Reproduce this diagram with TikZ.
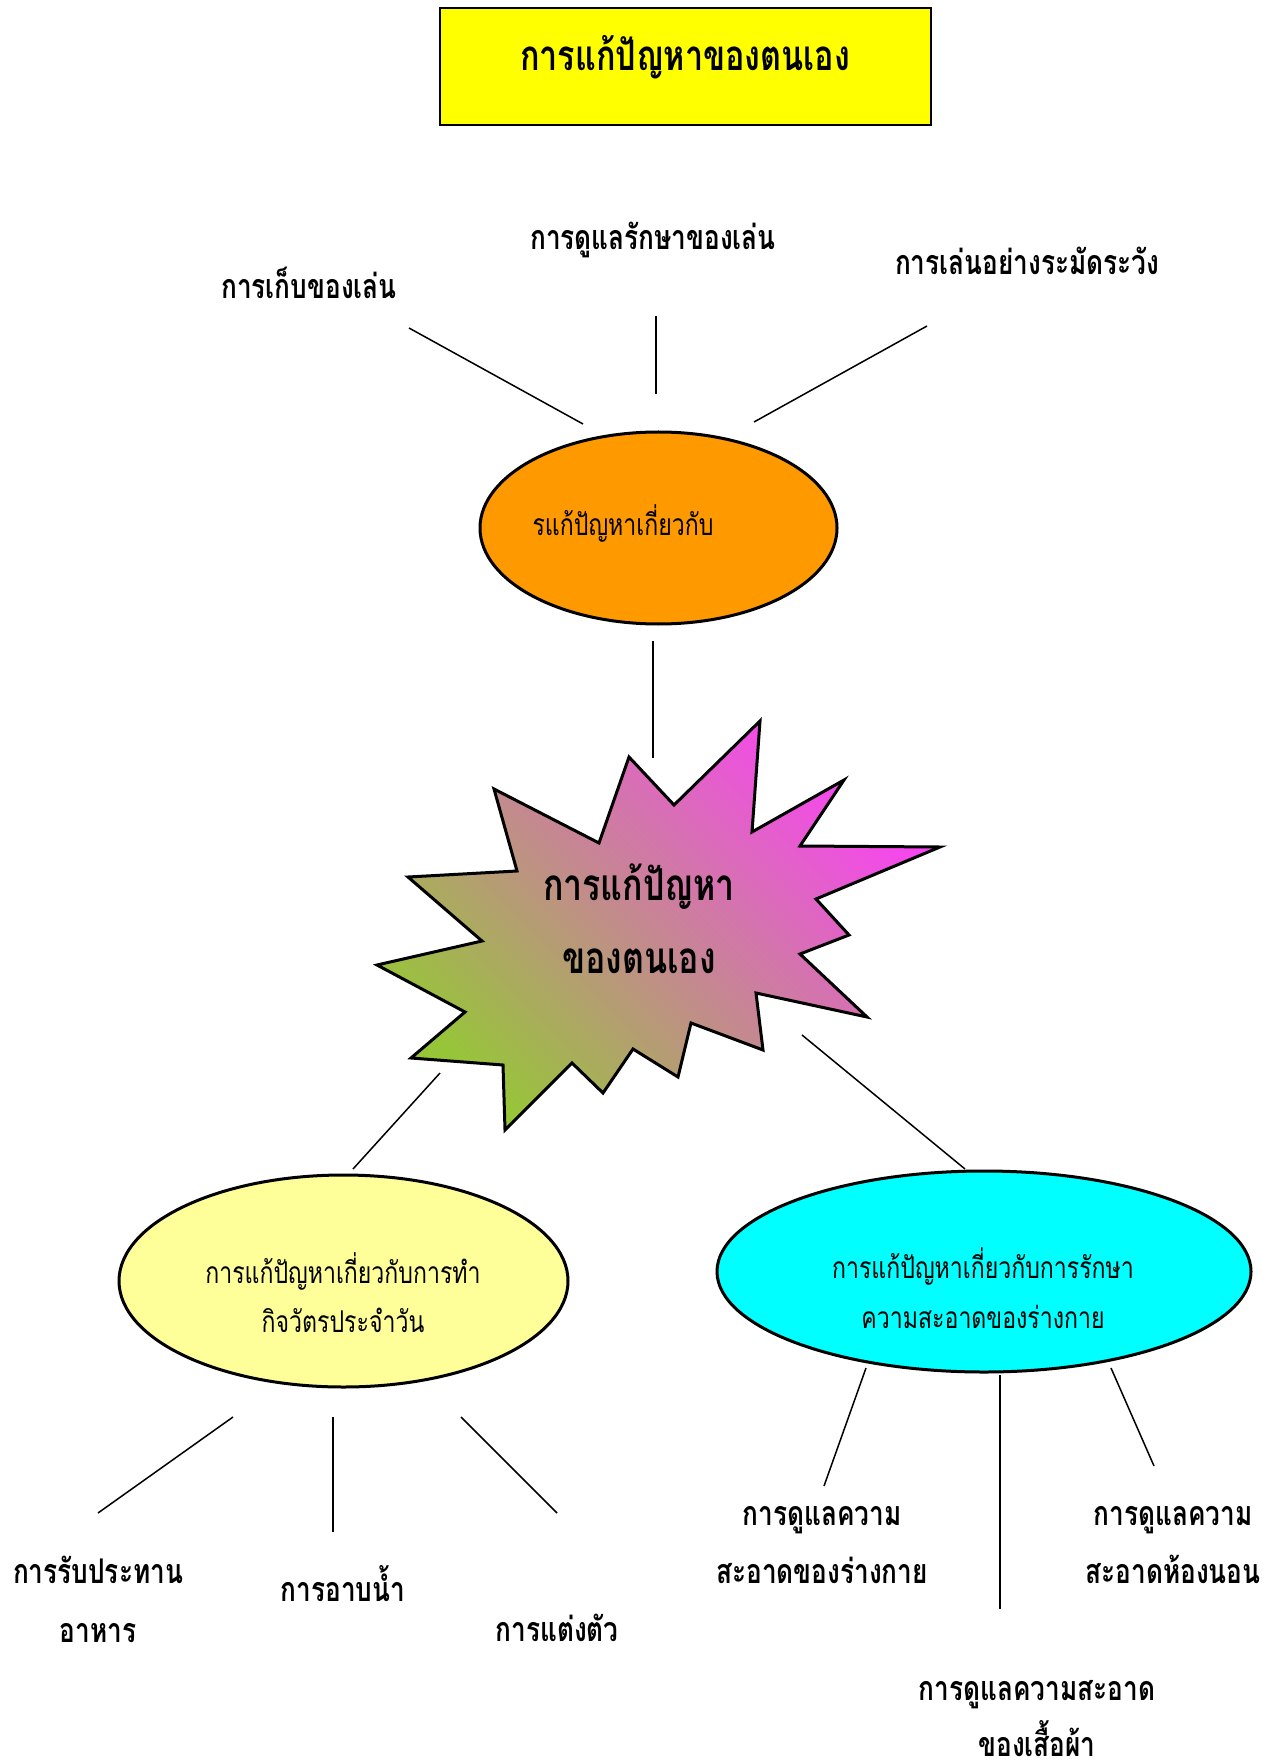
\documentclass[tikz,border=0pt]{standalone}
\usepackage{fontspec}
\newfontfamily\thai[Script=Thai,FakeStretch=0.77]{Loma}
\usetikzlibrary{shapes.geometric}
\definecolor{titleyellow}{RGB}{255,255,0}
\definecolor{ovorange}{RGB}{255,153,0}
\definecolor{ovyellow}{RGB}{255,255,153}
\definecolor{ovcyan}{RGB}{0,255,255}
\definecolor{stargreen}{RGB}{150,198,55}
\definecolor{startan}{RGB}{200,168,158}
\definecolor{starmag}{RGB}{248,68,242}
\begin{document}
\begin{tikzpicture}[x=0.5pt,y=-0.5pt,
  conn/.style={draw=black,line width=0.75pt},
  lbl/.style={anchor=base,inner sep=0pt,font=\thai\bfseries\fontsize{17}{20}\selectfont},
  biglbl/.style={anchor=base,inner sep=0pt,font=\thai\bfseries\fontsize{22}{26}\selectfont},
  etxt/.style={anchor=base,inner sep=0pt,font=\thai\fontsize{15}{18}\selectfont},
  oval/.style={ellipse,draw=black,line width=1.5pt,inner sep=0pt}]
\useasboundingbox (0,0) rectangle (1277,1764);

% title
\node[draw=black,line width=1pt,fill=titleyellow,minimum width=245.5pt,minimum height=58.5pt,inner sep=0pt] (title) at (685.5,66.5) {};
\node[biglbl,font=\thai\bfseries\fontsize{21}{25}\selectfont] (titletext) at (685,71) {การแก้ปัญหาของตนเอง};

% orange ellipse
\node[oval,fill=ovorange,minimum width=178.5pt,minimum height=96pt] (orange) at (658.5,528) {};
\node[etxt] (orangetext) at (623,536) {รแก้ปัญหาเกี่ยวกับ};

% top labels
\node[lbl] (keep) at (309,299) {การเก็บของเล่น};
\node[lbl] (care) at (653,250) {การดูแลรักษาของเล่น};
\node[lbl] (play) at (1027,275) {การเล่นอย่างระมัดระวัง};

\coordinate (k1) at (409,328); \coordinate (k2) at (583,424);
\coordinate (c1) at (656,316); \coordinate (c2) at (656,394);
\coordinate (p1) at (927,326); \coordinate (p2) at (754,422);
\draw[conn] (k1) -- (k2);
\draw[conn] (c1) -- (c2);
\draw[conn] (p1) -- (p2);

% star
\shadedraw[draw=black,line width=1.5pt,line join=miter,
  left color=starmag,middle color=startan,right color=stargreen,shading angle=-45]
  (494,789) -- (599,843) -- (629,757) -- (674,805) -- (760,721) -- (752,832)
  -- (844,780) -- (800,846) -- (940,847) -- (816,899) -- (849,935) -- (800,954)
  -- (867,1017) -- (756,993) -- (763,1050) -- (691,1023) -- (678,1077)
  -- (633,1049) -- (603,1093) -- (572,1063) -- (505,1130) -- (503,1065)
  -- (411,1058) -- (465,1012) -- (377,965) -- (482,941) -- (408,877)
  -- (517,871) -- cycle;
\node[biglbl] (star1) at (639,900) {การแก้ปัญหา};
\node[biglbl] (star2) at (639,973) {ของตนเอง};

\coordinate (s1) at (653,641); \coordinate (s2) at (653,758);
\draw[conn] (s1) -- (s2);

% lower ellipses
\coordinate (y1) at (440,1073); \coordinate (y2) at (353,1169);
\coordinate (q1) at (802,1035); \coordinate (q2) at (965,1169);
\draw[conn] (y1) -- (y2);
\draw[conn] (q1) -- (q2);

\node[oval,fill=ovyellow,minimum width=224.5pt,minimum height=106pt] (yellow) at (343.5,1281) {};
\node[etxt] (yt1) at (343,1283) {การแก้ปัญหาเกี่ยวกับการทำ};
\node[etxt] (yt2) at (343,1332) {กิจวัตรประจำวัน};

\node[oval,fill=ovcyan,minimum width=267pt,minimum height=100.5pt] (cyan) at (984,1271.5) {};
\node[etxt] (ct1) at (983,1278) {การแก้ปัญหาเกี่ยวกับการรักษา};
\node[etxt] (ct2) at (983,1328) {ความสะอาดของร่างกาย};

% bottom-left branches
\coordinate (a1) at (233,1417); \coordinate (a2) at (98,1513);
\coordinate (b1) at (333,1417); \coordinate (b2) at (333,1532);
\coordinate (d1) at (461,1417); \coordinate (d2) at (557,1513);
\draw[conn] (a1) -- (a2);
\draw[conn] (b1) -- (b2);
\draw[conn] (d1) -- (d2);
\node[lbl] (eat1) at (98,1583) {การรับประทาน};
\node[lbl] (eat2) at (98,1642) {อาหาร};
\node[lbl] (bath) at (343,1601) {การอาบน้ำ};
\node[lbl] (dress) at (557,1641) {การแต่งตัว};

% bottom-right branches
\coordinate (e1) at (866,1368); \coordinate (e2) at (824,1486);
\coordinate (f1) at (1000,1375); \coordinate (f2) at (1000,1609);
\coordinate (g1) at (1111,1368); \coordinate (g2) at (1154,1466);
\draw[conn] (e1) -- (e2);
\draw[conn] (f1) -- (f2);
\draw[conn] (g1) -- (g2);
\node[lbl] (body1) at (822,1525) {การดูแลความ};
\node[lbl] (body2) at (822,1583) {สะอาดของร่างกาย};
\node[lbl] (room1) at (1173,1525) {การดูแลความ};
\node[lbl] (room2) at (1173,1583) {สะอาดห้องนอน};
\node[lbl] (cloth1) at (1037,1700) {การดูแลความสะอาด};
\node[lbl] (cloth2) at (1037,1756) {ของเสื้อผ้า};
\end{tikzpicture}
\end{document}
